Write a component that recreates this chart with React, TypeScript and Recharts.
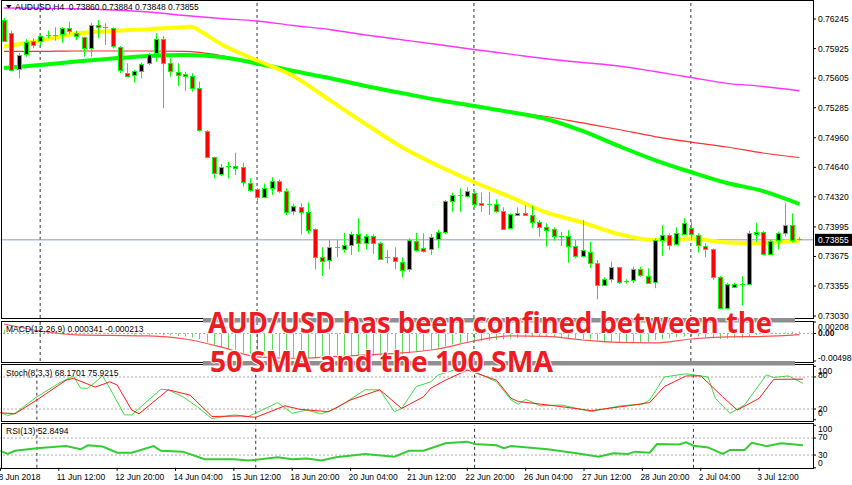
import React from "react"
import { ComposedChart, Bar, Line, XAxis, YAxis, ReferenceLine } from "recharts"

const W = 852
const FONT = '"Liberation Sans", Arial, sans-serif'

// AUDUSD H4 candles, 8 Jun 04:00 -> 4 Jul 2018
const OPEN = [
  0.76235, 0.76097, 0.75701, 0.75866, 0.7601, 0.7601, 0.76069, 0.76072, 0.76083, 0.76145,
  0.76097, 0.76047, 0.75928, 0.7618, 0.76161, 0.76145, 0.75939, 0.75664, 0.75639, 0.75686,
  0.75766, 0.75874, 0.76026, 0.75766, 0.75675, 0.75647, 0.75628, 0.75495, 0.75036, 0.74748,
  0.74575, 0.74654, 0.74657, 0.7464, 0.74473, 0.74402, 0.74321, 0.74412, 0.74492, 0.74387,
  0.74159, 0.74205, 0.74159, 0.73969, 0.73666, 0.73629, 0.7377, 0.73752, 0.73799, 0.73918,
  0.73824, 0.73896, 0.73824, 0.73666, 0.73666, 0.73618, 0.73536, 0.73845, 0.73763, 0.73752,
  0.73872, 0.73943, 0.74278, 0.74332, 0.74329, 0.74367, 0.7425, 0.74243, 0.74243, 0.7417,
  0.7398, 0.74123, 0.74148, 0.74123, 0.74051, 0.73997, 0.73969, 0.73889, 0.73896, 0.73788,
  0.7368, 0.73726, 0.73601, 0.73366, 0.73428, 0.73557, 0.73402, 0.73413, 0.73536, 0.73463,
  0.73402, 0.73853, 0.73907, 0.7381, 0.73925, 0.7398, 0.73907, 0.73788, 0.73752, 0.73456,
  0.73116, 0.73346, 0.73377, 0.73377, 0.73925, 0.73943, 0.73701, 0.73845, 0.73925, 0.74015,
  0.7386,
]
const HIGH = [
  0.76256, 0.76119, 0.75877, 0.76026, 0.76036, 0.76072, 0.76119, 0.76156, 0.76156, 0.76216,
  0.76119, 0.76054, 0.76205, 0.76234, 0.76199, 0.76156, 0.75953, 0.75766, 0.75693, 0.75772,
  0.7588, 0.7609, 0.76061, 0.7582, 0.75766, 0.75675, 0.75658, 0.75567, 0.75044, 0.74755,
  0.74676, 0.74701, 0.74798, 0.7469, 0.74521, 0.74416, 0.74465, 0.74532, 0.7451, 0.74412,
  0.74248, 0.7425, 0.74261, 0.7398, 0.73774, 0.73853, 0.73853, 0.73932, 0.73943, 0.74088,
  0.73918, 0.73918, 0.73835, 0.73745, 0.73774, 0.73666, 0.73872, 0.73932, 0.73925, 0.73918,
  0.73961, 0.74286, 0.74367, 0.74412, 0.74424, 0.74387, 0.74367, 0.74376, 0.74294, 0.74207,
  0.74141, 0.74207, 0.74229, 0.74224, 0.74069, 0.74034, 0.7399, 0.73943, 0.73961, 0.73853,
  0.74069, 0.73835, 0.73637, 0.73449, 0.73618, 0.73564, 0.73428, 0.73564, 0.73564, 0.73547,
  0.73872, 0.74015, 0.73925, 0.7399, 0.74088, 0.74051, 0.73925, 0.73818, 0.73763, 0.73463,
  0.73391, 0.73391, 0.73463, 0.73953, 0.74041, 0.73953, 0.73861, 0.73943, 0.7425, 0.74141,
  0.73884,
]
const LOW = [
  0.75996, 0.75686, 0.75603, 0.75837, 0.75928, 0.75964, 0.76036, 0.7601, 0.75989, 0.76083,
  0.76018, 0.75837, 0.75837, 0.76036, 0.75964, 0.75928, 0.75658, 0.75621, 0.75556, 0.75603,
  0.75747, 0.75783, 0.75279, 0.75621, 0.7552, 0.75469, 0.75458, 0.75025, 0.74737, 0.74521,
  0.74546, 0.74521, 0.74557, 0.7443, 0.74376, 0.7425, 0.74304, 0.7434, 0.74359, 0.74123,
  0.74123, 0.73912, 0.73918, 0.73536, 0.73463, 0.73536, 0.73666, 0.73716, 0.73691, 0.73726,
  0.73752, 0.73701, 0.73644, 0.73601, 0.73536, 0.73449, 0.73509, 0.73726, 0.73716, 0.73691,
  0.73763, 0.73918, 0.74159, 0.74159, 0.74321, 0.74196, 0.74159, 0.74123, 0.74148, 0.73961,
  0.73969, 0.74112, 0.74112, 0.7398, 0.73889, 0.73781, 0.73845, 0.73788, 0.73607, 0.73655,
  0.73666, 0.73547, 0.73211, 0.73355, 0.73391, 0.73377, 0.73384, 0.73384, 0.73456, 0.73384,
  0.73332, 0.7368, 0.73745, 0.73799, 0.73907, 0.73853, 0.73716, 0.73666, 0.7342, 0.73104,
  0.73104, 0.7334, 0.73148, 0.73366, 0.73835, 0.73691, 0.73691, 0.73752, 0.73889, 0.73824,
  0.73848,
]
const CLOSE = [
  0.7601, 0.75701, 0.75856, 0.75999, 0.75972, 0.76061, 0.76072, 0.76075, 0.76145, 0.76108,
  0.76061, 0.75928, 0.7618, 0.76156, 0.76164, 0.75945, 0.75686, 0.75628, 0.75686, 0.75758,
  0.75866, 0.76026, 0.75766, 0.75675, 0.75647, 0.75625, 0.75495, 0.75044, 0.74755, 0.74575,
  0.74647, 0.74651, 0.7464, 0.74473, 0.74402, 0.74315, 0.74421, 0.74492, 0.74381, 0.74159,
  0.74218, 0.74148, 0.73969, 0.73666, 0.73618, 0.73774, 0.73774, 0.73799, 0.73918, 0.73824,
  0.73896, 0.73824, 0.73655, 0.73662, 0.73618, 0.73536, 0.73853, 0.73752, 0.73735, 0.73883,
  0.73943, 0.74278, 0.7434, 0.74336, 0.74387, 0.7425, 0.74229, 0.7424, 0.7417, 0.7398,
  0.74134, 0.74148, 0.74123, 0.74051, 0.73997, 0.73969, 0.73889, 0.73892, 0.73788, 0.7368,
  0.73745, 0.73607, 0.73366, 0.73428, 0.73557, 0.73391, 0.73405, 0.73536, 0.73474, 0.73391,
  0.73853, 0.73907, 0.73799, 0.73925, 0.74041, 0.73918, 0.73799, 0.73752, 0.73449, 0.73116,
  0.73377, 0.73377, 0.73374, 0.73925, 0.73943, 0.73701, 0.73845, 0.73925, 0.74015, 0.73853,
  0.73855,
]

// moving averages: [candle index, value]
const SMA_MAGENTA: [number, number][] = [
  [0, 0.76364], [5, 0.76361], [10, 0.76356], [15, 0.76343], [20, 0.76321], [25, 0.76283],
  [30, 0.76251], [35, 0.76224], [40, 0.76175], [45, 0.76132], [50, 0.76072], [55, 0.76021],
  [60, 0.75969], [65, 0.75915], [70, 0.75865], [75, 0.75815], [80, 0.75774], [85, 0.75737],
  [90, 0.75677], [95, 0.75612], [100, 0.75549], [105, 0.75515], [110, 0.75469],
]
const SMA_RED: [number, number][] = [
  [0, 0.75894], [5, 0.75894], [10, 0.75899], [15, 0.75899], [20, 0.75899], [25, 0.75894],
  [27, 0.75883], [30, 0.7585], [35, 0.75769], [40, 0.75693], [45, 0.75612], [50, 0.75526],
  [55, 0.7545], [60, 0.75374], [65, 0.75314], [70, 0.75244], [75, 0.7519], [80, 0.7512],
  [85, 0.75049], [90, 0.74973], [95, 0.74913], [100, 0.7486], [105, 0.74795], [110, 0.74746],
]
const SMA100: [number, number][] = [
  [0, 0.75715], [5, 0.75747], [10, 0.75785], [15, 0.75818], [20, 0.75845], [25, 0.75856],
  [30, 0.75834], [35, 0.75764], [40, 0.75682], [45, 0.75607], [50, 0.7552], [55, 0.75444],
  [60, 0.75369], [65, 0.75304], [70, 0.75239], [75, 0.75163], [80, 0.75033], [85, 0.74871],
  [90, 0.74719], [95, 0.74589], [100, 0.7447], [105, 0.74383], [110, 0.74243],
]
const SMA50: [number, number][] = [
  [0, 0.75948], [5, 0.76013], [10, 0.76088], [15, 0.76115], [20, 0.76134], [25, 0.76159],
  [26, 0.76162], [27, 0.76121], [30, 0.75975], [35, 0.75796], [40, 0.75628], [45, 0.75369],
  [50, 0.75109], [55, 0.7486], [60, 0.74659], [65, 0.74481], [70, 0.74319], [75, 0.74151],
  [80, 0.74043], [85, 0.73918], [90, 0.73853], [95, 0.73869], [100, 0.73826], [105, 0.7382],
  [110, 0.73847],
]

const MACD_MAIN = [
  0.0006, 0.00055, 0.0005, 0.0005, 0.00045, 0.0004, 0.00035, 0.0003, 0.0003, 0.00025,
  0.0002, 0.00015, 0.00015, 0.0001, 0.00005, 0, -0.0001, -0.00015, -0.0002, -0.00025,
  -0.00025, -0.0002, -0.0003, -0.00035, -0.00045, -0.00055, -0.0007, -0.001, -0.0016, -0.0021,
  -0.0025, -0.0029, -0.0032, -0.0035, -0.0037, -0.0039, -0.004, -0.0041, -0.0042, -0.0043,
  -0.0044, -0.00445, -0.0045, -0.0045, -0.0045, -0.00445, -0.0044, -0.00435, -0.0043, -0.00425,
  -0.0042, -0.0041, -0.004, -0.00395, -0.0039, -0.0038, -0.0035, -0.0033, -0.0031, -0.0029,
  -0.0027, -0.0023, -0.002, -0.0018, -0.0016, -0.0015, -0.0014, -0.0013, -0.0012, -0.0011,
  -0.00095, -0.0008, -0.0007, -0.00065, -0.00065, -0.00065, -0.0007, -0.00075, -0.0008, -0.0009,
  -0.001, -0.0011, -0.0013, -0.0014, -0.0015, -0.00155, -0.0016, -0.0016, -0.00155, -0.0015,
  -0.0012, -0.001, -0.00085, -0.0007, -0.00055, -0.0005, -0.00055, -0.00065, -0.0008, -0.001,
  -0.00095, -0.0009, -0.00085, -0.0005, -0.0003, -0.0002, -0.00005, 0.0001, 0.0002, 0.0003,
  0.000341,
]
const MACD_SIGNAL: [number, number][] = [
  [0, 0.00172], [5, 0.00045], [10, -0.00027], [15, -0.00036], [20, -0.00045], [25, -0.001],
  [30, -0.00244], [35, -0.00425], [40, -0.00449], [45, -0.00425], [50, -0.00389], [55, -0.00353],
  [60, -0.00281], [65, -0.00136], [70, -0.00045], [75, -0.00054], [80, -0.00118], [85, -0.00163],
  [90, -0.00172], [95, -0.001], [100, -0.00063], [105, -0.00054], [110, -0.000213],
]

const STOCH_MAIN: [number, number][] = [
  [0, 14], [1, 7.5], [2, 12], [5, 43], [8, 68], [10, 82], [11, 59], [12, 59], [14, 82], [15, 59],
  [17, 9], [18, 9], [22, 57], [23, 56], [25, 43], [27, 24], [29, 2], [32, 9], [34, 6], [38, 32],
  [40, 12], [42, 18], [44, 11], [46, 21], [50, 56], [52, 56], [54, 15], [55, 21], [57, 62],
  [59, 71], [60, 84], [63, 96], [65, 90], [68, 71], [70, 37], [71, 29], [72, 38], [74, 26],
  [77, 27.5], [81, 15], [82, 18], [85, 26], [88, 29], [89, 37], [91, 80], [94, 86], [97, 80],
  [98, 40], [100, 12], [102, 27.5], [105, 84], [106, 79], [108, 82], [110, 68.1701],
]
const STOCH_SIGNAL: [number, number][] = [
  [0, 13], [2, 11], [5, 37], [9, 74], [10, 77.5], [13, 61], [15, 71], [16, 65], [18, 18],
  [19, 11], [23, 56], [26, 46], [29, 6], [33, 7], [35, 4.5], [39, 26], [41, 19.5], [45, 15],
  [48, 37], [52, 56], [55, 21], [58, 43], [59, 59], [61, 74], [64, 93], [68, 74], [70, 40],
  [71, 34], [76, 26], [81, 17], [86, 26], [89, 32], [91, 62], [94, 82], [96, 82], [99, 43],
  [101, 18], [104, 40], [106, 75.5], [110, 75.9215],
]

const RSI: [number, number][] = [
  [0, 40], [1, 32.5], [2, 40], [5, 46], [8, 50], [9, 51], [11, 43.5], [12, 53], [14, 50],
  [16, 35.5], [18, 35.5], [21, 51], [22, 40], [25, 38], [28, 20], [32, 20], [34, 17], [38, 25],
  [40, 20], [42, 22], [44, 17], [46, 25], [50, 32.5], [54, 26], [56, 40], [58, 40], [59, 46],
  [61, 57.5], [64, 61.5], [65, 56], [68, 53], [69, 46], [70, 51], [75, 43.5], [79, 34], [82, 26],
  [84, 34], [86, 32.5], [87, 38], [89, 35.5], [90, 56], [93, 55], [94, 60], [95, 52], [97, 48],
  [99, 32.5], [100, 42], [102, 42], [103, 59], [105, 51], [107, 57.5], [110, 52.8494],
]

const X_LABELS = [
  "8 Jun 2018", "11 Jun 12:00", "12 Jun 20:00", "14 Jun 04:00", "15 Jun 12:00",
  "18 Jun 20:00", "20 Jun 04:00", "21 Jun 12:00", "22 Jun 20:00", "26 Jun 04:00",
  "27 Jun 12:00", "28 Jun 20:00", "2 Jul 04:00", "3 Jul 12:00",
]
const X_TICKS = X_LABELS.map((_, k) => k * 8)
const WEEK_STARTS = [5, 35, 65, 95]
const PRICE_TICKS = [
  0.76245, 0.75925, 0.75605, 0.75285, 0.7496, 0.7464, 0.7432, 0.73995, 0.73675, 0.73355, 0.7303,
]
const LAST = { o: 0.7386, h: 0.73884, l: 0.73848, c: 0.73855 }

const sparse = (pts: [number, number][]) => {
  const out: (number | null)[] = OPEN.map(() => null)
  pts.forEach(([i, v]) => (out[i] = v))
  return out
}
const magenta = sparse(SMA_MAGENTA)
const red = sparse(SMA_RED)
const s100 = sparse(SMA100)
const s50 = sparse(SMA50)
const sig = sparse(MACD_SIGNAL)
const stM = sparse(STOCH_MAIN)
const stS = sparse(STOCH_SIGNAL)
const rsi = sparse(RSI)

const rows = OPEN.map((o, i) => ({
  i,
  o,
  h: HIGH[i],
  l: LOW[i],
  c: CLOSE[i],
  range: [LOW[i], HIGH[i]],
  magenta: magenta[i],
  red: red[i],
  s100: s100[i],
  s50: s50[i],
  macd: MACD_MAIN[i],
  sig: sig[i],
  stM: stM[i],
  stS: stS[i],
  rsi: rsi[i],
}))

const PAD = { left: 0, right: 10.1 }
const MARGIN_X = { left: 0.4, right: 0 }

const Candle = (props: any) => {
  const { x, y, width, height, payload } = props
  if (!payload || !Number.isFinite(y)) return <g />
  const top = Math.min(y, y + height)
  const span = Math.abs(height)
  const { o, h, l, c } = payload
  const toY = (v: number) => (h === l ? top : top + ((h - v) / (h - l)) * span)
  const cx = Math.round(x + width / 2)
  const a = toY(Math.max(o, c))
  const b = toY(Math.min(o, c))
  const flat = b - a < 1
  return (
    <g>
      <line x1={cx + 0.5} x2={cx + 0.5} y1={top} y2={top + span} stroke="#00ff00" />
      {flat ? (
        <line x1={cx - 2} x2={cx + 3} y1={Math.round(a) + 0.5} y2={Math.round(a) + 0.5} stroke="#00ff00" />
      ) : (
        <rect
          x={cx - 1.5}
          y={Math.round(a) + 0.5}
          width={4}
          height={Math.max(1, Math.round(b - a))}
          fill={c > o ? "#000000" : "#ff0000"}
          stroke="#00ff00"
        />
      )}
    </g>
  )
}

const HistBar = (props: any) => {
  const { x, y, width, height } = props
  if (!Number.isFinite(y)) return <g />
  const top = Math.min(y, y + height)
  return <rect x={Math.round(x + width / 2)} y={top} width={1} height={Math.max(Math.abs(height), 0.5)} fill="#5fd85f" />
}

const SideTick = (props: any) => {
  const { x, y, payload, shifts, labels } = props
  const key = String(payload.value)
  return (
    <text
      x={x}
      y={y + (shifts?.[key] ?? 0)}
      dy="0.35em"
      fontSize={8.5}
      fontFamily={FONT}
      fill="#000"
      textAnchor="start"
      fontWeight={labels?.bold === key ? 700 : 400}
    >
      {labels?.[key] ?? key}
    </text>
  )
}

const TimeTick = (props: any) => {
  const { x, y, payload } = props
  const label = X_LABELS[X_TICKS.indexOf(payload.value)]
  return (
    <text x={x - 2} y={y + 9} fontSize={8.5} fontFamily={FONT} fill="#000" textAnchor="start">
      {label}
    </text>
  )
}

const PriceTag = (props: any) => {
  const vb = props.viewBox
  if (!vb) return null
  const x = vb.x + vb.width + 2
  return (
    <g>
      <rect x={x} y={vb.y - 6} width={37} height={12} fill="#000" />
      <text x={x + 3} y={vb.y + 3.5} fill="#fff" fontSize={8.5} fontFamily={FONT}>
        {LAST.c.toFixed(5)}
      </text>
    </g>
  )
}

const yAxisCommon = {
  orientation: "right" as const,
  width: 39,
  interval: 0 as const,
  axisLine: false,
  tickSize: 3,
  tickMargin: 2,
  tickLine: { stroke: "#000" },
  allowDataOverflow: true,
}

const weekLines = () =>
  WEEK_STARTS.map((s) => (
    <ReferenceLine key={`w${s}`} x={s} stroke="#333" strokeDasharray="3 3" ifOverflow="visible" />
  ))

const PANELS: [number, number][] = [
  [0.5, 318.5],
  [321.5, 362.5],
  [364.5, 421.5],
  [423.5, 468.5],
]

export default function App() {
  return (
    <div
      style={{
        position: "fixed",
        left: 0,
        top: 0,
        width: W,
        height: 485,
        background: "#fff",
        overflow: "hidden",
      }}
    >
      {/* price panel */}
      <div style={{ position: "absolute", left: 0, top: 0 }}>
        <ComposedChart width={W} height={320} data={rows} margin={{ top: 1, bottom: 2, ...MARGIN_X }}>
          <XAxis dataKey="i" hide padding={PAD} />
          <YAxis
            {...yAxisCommon}
            domain={[0.73009, 0.7644]}
            ticks={PRICE_TICKS}
            tick={{ fontSize: 8.5, fill: "#000", fontFamily: FONT }}
            tickFormatter={(v: number) => v.toFixed(5)}
          />
          {weekLines()}
          <ReferenceLine y={LAST.c} stroke="#8a9ab3" label={<PriceTag />} />
          <Line dataKey="magenta" stroke="#ff33ff" strokeWidth={1.4} dot={false} connectNulls type="monotone" isAnimationActive={false} />
          <Line dataKey="red" stroke="#ff3030" strokeWidth={1.2} dot={false} connectNulls type="monotone" isAnimationActive={false} />
          <Line dataKey="s100" stroke="#00ff00" strokeWidth={4} dot={false} connectNulls type="monotone" isAnimationActive={false} />
          <Line dataKey="s50" stroke="#ffff00" strokeWidth={4} dot={false} connectNulls type="monotone" isAnimationActive={false} />
          <Bar dataKey="range" shape={Candle} isAnimationActive={false} zIndex={700} />
        </ComposedChart>
      </div>

      {/* MACD */}
      <div style={{ position: "absolute", left: 0, top: 320 }}>
        <ComposedChart width={W} height={43} data={rows} margin={{ top: 2, bottom: 2, ...MARGIN_X }}>
          <XAxis dataKey="i" hide padding={PAD} />
          <YAxis
            {...yAxisCommon}
            domain={[-0.004988, 0.00208]}
            ticks={[0.00208, 0, -0.004988]}
            tick={
              <SideTick
                shifts={{ "0.00208": 5, "0": -0.5, "-0.004988": -3.3 }}
                labels={{ "0.00208": "0.00208", "0": "0.00", "-0.004988": "-0.004988", bold: "0" }}
              />
            }
          />
          <ReferenceLine y={0} stroke="#aaa" strokeDasharray="2 2" />
          {weekLines()}
          <Bar dataKey="macd" shape={HistBar} isAnimationActive={false} />
          <Line dataKey="sig" stroke="#ff5050" strokeWidth={1.2} dot={false} connectNulls type="monotone" isAnimationActive={false} />
        </ComposedChart>
      </div>

      {/* Stochastic */}
      <div style={{ position: "absolute", left: 0, top: 364 }}>
        <ComposedChart width={W} height={58} data={rows} margin={{ top: 2.3, bottom: 2.3, ...MARGIN_X }}>
          <XAxis dataKey="i" hide padding={PAD} />
          <YAxis
            {...yAxisCommon}
            domain={[0, 100]}
            ticks={[100, 80, 20, 0]}
            tick={<SideTick shifts={{ "100": 4.4, "80": -2.3, "20": 0, "0": -6.4 }} />}
          />
          <ReferenceLine y={80} stroke="#aaa" strokeDasharray="2 2" />
          <ReferenceLine y={20} stroke="#aaa" strokeDasharray="2 2" />
          {weekLines()}
          <Line dataKey="stM" stroke="#44d844" strokeWidth={1} dot={false} connectNulls type="linear" isAnimationActive={false} />
          <Line dataKey="stS" stroke="#ff1a1a" strokeWidth={1} dot={false} connectNulls type="linear" isAnimationActive={false} />
        </ComposedChart>
      </div>

      {/* RSI + time axis */}
      <div style={{ position: "absolute", left: 0, top: 423 }}>
        <ComposedChart width={W} height={62} data={rows} margin={{ top: 2.3, bottom: 0, ...MARGIN_X }}>
          <XAxis
            dataKey="i"
            padding={PAD}
            height={17.2}
            ticks={X_TICKS}
            interval={0}
            axisLine={false}
            tickSize={3}
            tickMargin={0}
            tickLine={{ stroke: "#000" }}
            tick={<TimeTick />}
          />
          <YAxis
            {...yAxisCommon}
            domain={[0, 100]}
            ticks={[100, 70, 30, 0]}
            tick={<SideTick shifts={{ "100": 3.4, "70": -0.7, "30": 0, "0": -5 }} />}
          />
          <ReferenceLine y={70} stroke="#aaa" strokeDasharray="2 2" />
          <ReferenceLine y={30} stroke="#aaa" strokeDasharray="2 2" />
          {weekLines()}
          <Line dataKey="rsi" stroke="#33cc33" strokeWidth={2} dot={false} connectNulls type="linear" isAnimationActive={false} />
        </ComposedChart>
      </div>

      {/* frames, titles and the annotation */}
      <svg width={W} height={485} style={{ position: "absolute", left: 0, top: 0, pointerEvents: "none" }}>
        {PANELS.map(([t, b]) => (
          <rect key={t} x={1.5} y={t} width={812} height={b - t} fill="none" stroke="#000" />
        ))}
        <rect x={203} y={318} width={592} height={4.5} fill="#8f8f8f" />
        <rect x={203} y={361} width={592} height={4.5} fill="#8f8f8f" />

        <polygon points="6,5 11.5,5 8.75,8.5" fill="#000" />
        <text x={15} y={10} fontSize={8.5} fontFamily={FONT} fill="#000" style={{ whiteSpace: "pre" }}>
          {`AUDUSD,H4  ${LAST.o.toFixed(5)} ${LAST.h.toFixed(5)} ${LAST.l.toFixed(5)} ${LAST.c.toFixed(5)}`}
        </text>
        <text x={6} y={332} fontSize={8.5} fontFamily={FONT} fill="#000">
          MACD(12,26,9) 0.000341 -0.000213
        </text>
        <text x={6} y={376} fontSize={8.5} fontFamily={FONT} fill="#000">
          Stoch(8,3,3) 68.1701 75.9215
        </text>
        <text x={6} y={434} fontSize={8.5} fontFamily={FONT} fill="#000">
          RSI(13) 52.8494
        </text>

        <g fontFamily="'Open Sans', sans-serif" fontWeight={700} fontSize={28} fill="#ed1c24" stroke="#fff" strokeWidth={2} style={{ paintOrder: "stroke" }}>
          <text x={208} y={333} textLength={564} lengthAdjust="spacingAndGlyphs">
            AUD/USD has been confined between the
          </text>
          <text x={210} y={371.5} textLength={343} lengthAdjust="spacingAndGlyphs">
            50 SMA and the 100 SMA
          </text>
        </g>
      </svg>
    </div>
  )
}
